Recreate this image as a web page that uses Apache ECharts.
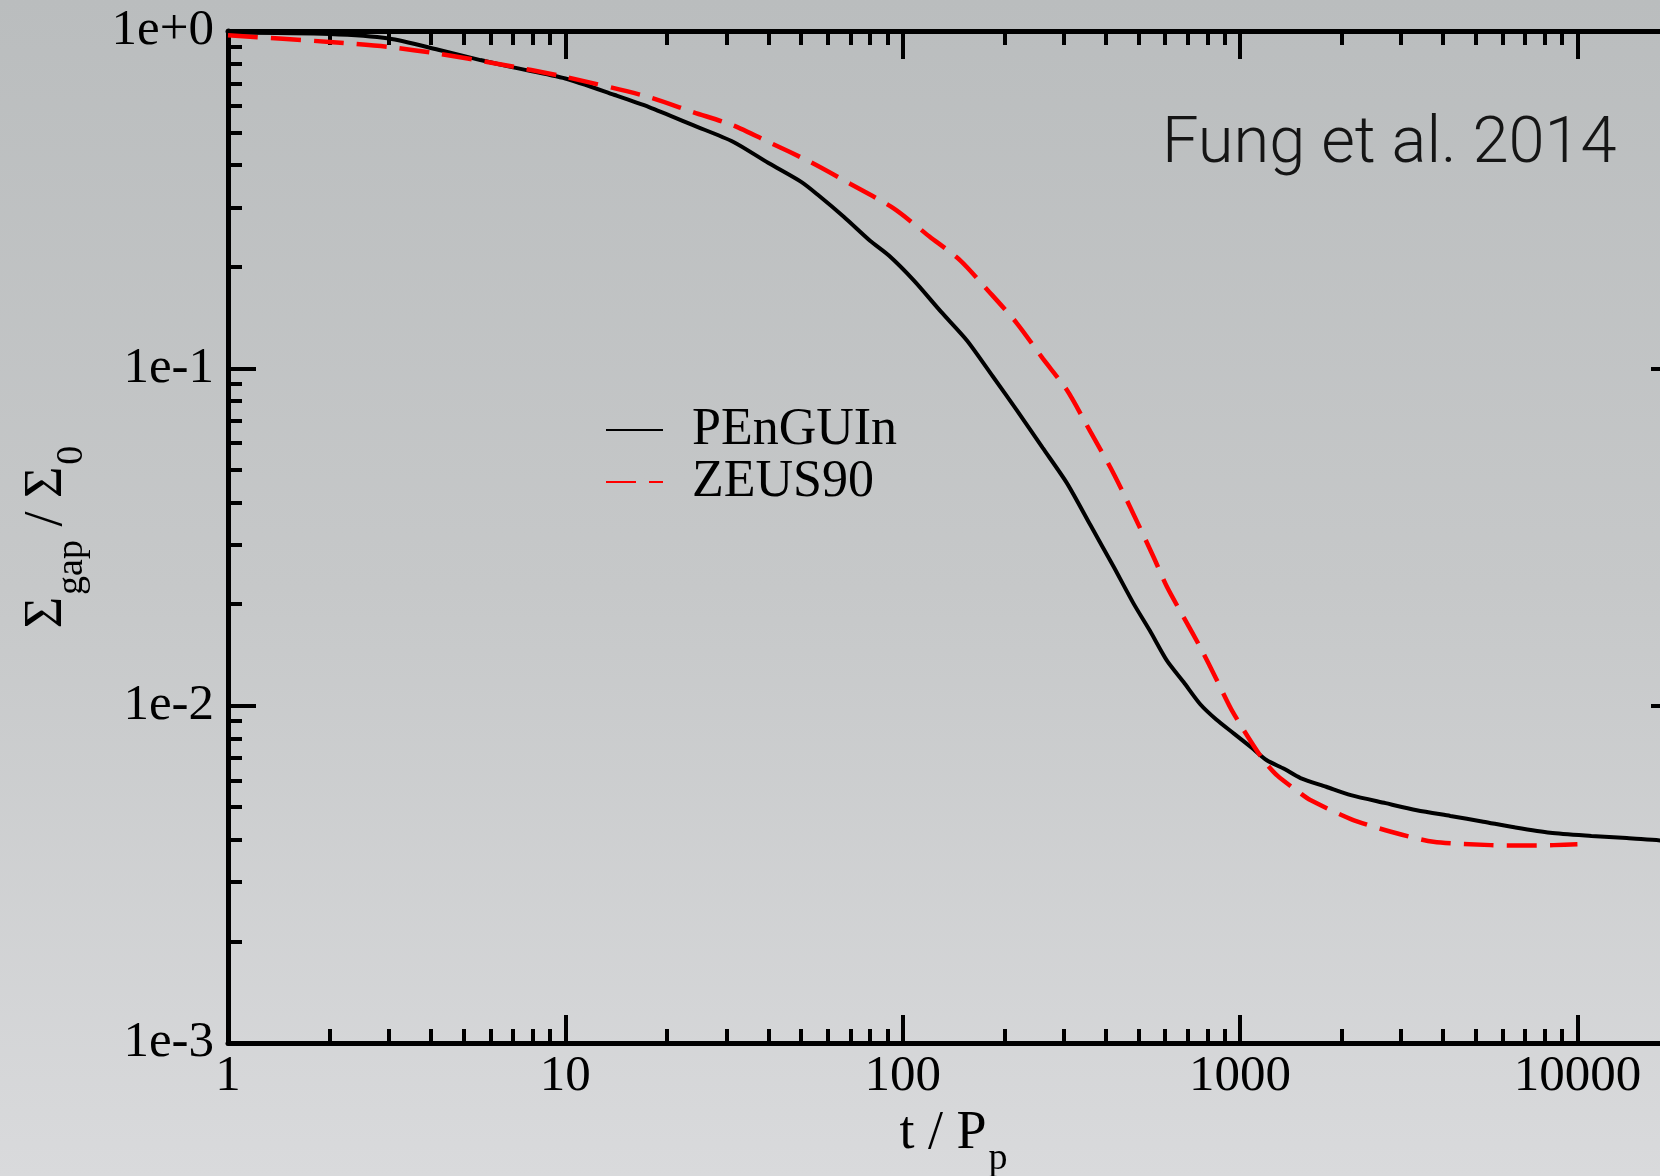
<!DOCTYPE html>
<html>
<head>
<meta charset="utf-8">
<script src="https://cdn.jsdelivr.net/npm/echarts@6/dist/echarts.min.js"></script>
<style>
html, body { margin: 0; padding: 0; }
body { background: linear-gradient(to bottom, #babdbe 0%, #c6c8c9 50%, #d9dadc 100%); }
#chart { width: 1660px; height: 1176px; }
</style>
</head>
<body>
<div id="chart"></div>
<script>
// PEnGUIn run (solid black)
const penguinT = [1, 2, 3, 4.2, 5.6, 7, 10, 14, 17.7, 24, 31.5, 40, 50, 56, 67, 80, 91, 108, 130, 155, 185, 218, 260, 307, 360, 422, 483, 540, 607, 680, 762, 850, 957, 1080, 1200, 1350, 1510, 1800, 2130, 2700, 3340, 4200, 5260, 6500, 8300, 11000, 14000, 18000, 20000];
const penguinS = [0.99, 0.98, 0.95, 0.88, 0.82, 0.78, 0.723, 0.646, 0.595, 0.525, 0.469, 0.406, 0.357, 0.327, 0.281, 0.239, 0.216, 0.182, 0.147, 0.121, 0.0946, 0.0751, 0.0581, 0.0456, 0.0343, 0.0258, 0.0201, 0.0167, 0.0136, 0.01175, 0.0101, 0.0091, 0.00828, 0.00752, 0.00689, 0.0065, 0.0061, 0.00575, 0.00543, 0.00514, 0.0049, 0.00471, 0.00453, 0.00436, 0.0042, 0.00411, 0.00405, 0.00398, 0.00397];

// ZEUS90 run (red dashed)
const zeusT = [1, 2, 3, 4.2, 6.27, 10, 17.7, 24, 31.5, 40, 53.2, 70, 94, 120, 148, 180, 218, 260, 307, 360, 412, 462, 554, 607, 680, 762, 850, 950, 1160, 1290, 1510, 1615, 2130, 2800, 3740, 5530, 7000, 8500, 10000];
const zeusS = [0.971, 0.928, 0.897, 0.857, 0.80, 0.731, 0.637, 0.574, 0.525, 0.469, 0.409, 0.352, 0.298, 0.246, 0.209, 0.169, 0.136, 0.107, 0.0861, 0.0649, 0.051, 0.0406, 0.0276, 0.0225, 0.0183, 0.0149, 0.012, 0.0096, 0.0070, 0.0062, 0.0055, 0.00525, 0.00461, 0.00423, 0.00395, 0.00386, 0.00385, 0.00386, 0.00388];

const xMajor = [1, 10, 100, 1000, 10000];
const yMajor = [0.001, 0.01, 0.1, 1];
const yLabels = ['1e-3', '1e-2', '1e-1', '1e+0'];

// minor ticks at 2..9 of every decade
const minorOf = (decades) => {
    const out = [];
    decades.forEach(d => {
        for (let m = 2; m <= 9; m++) out.push(Number((m * d).toPrecision(3)));
    });
    return out;
};
const xMinor = minorOf([1, 10, 100, 1000, 10000]);
const yMinor = minorOf([0.001, 0.01, 0.1]);

const serif = '"Liberation Serif", "DejaVu Serif", serif';
const black = '#000';

const nameRich = {
    m: { fontSize: 54, fontFamily: serif, color: black, lineHeight: 54, verticalAlign: 'top' },
    s: { fontSize: 38, fontFamily: serif, color: black, lineHeight: 38, verticalAlign: 'top', padding: [33, 0, 0, 2] }
};

const makeX = (pos, ticks, len, withLabel) => ({
    type: 'log', logBase: 10, min: 1, max: 20000, position: pos,
    axisLine: { show: withLabel !== null, onZero: false, lineStyle: { color: black, width: 5 } },
    axisTick: { inside: true, length: len, customValues: ticks, lineStyle: { color: black, width: 4 } },
    axisLabel: withLabel ? {
        show: true, customValues: xMajor, margin: 8,
        fontFamily: serif, fontSize: 51, color: black,
        formatter: v => String(Math.round(v))
    } : { show: false },
    splitLine: { show: false },
    minorTick: { show: false }
});

const makeY = (pos, ticks, len, withLabel) => ({
    type: 'log', logBase: 10, min: 0.001, max: 1, position: pos,
    axisLine: { show: withLabel !== null, onZero: false, lineStyle: { color: black, width: 5 } },
    axisTick: { inside: true, length: len, customValues: ticks, lineStyle: { color: black, width: 4 } },
    axisLabel: withLabel ? {
        show: true, customValues: yMajor, margin: 14,
        fontFamily: serif, fontSize: 51, color: black,
        formatter: v => {
            let best = 0;
            yMajor.forEach((t, i) => { if (Math.abs(Math.log10(t) - Math.log10(v)) < Math.abs(Math.log10(yMajor[best]) - Math.log10(v))) best = i; });
            return yLabels[best];
        }
    } : { show: false },
    splitLine: { show: false },
    minorTick: { show: false }
});

const xAxes = [
    makeX('bottom', xMajor, 28, true),
    makeX('bottom', xMinor, 14, null),
    makeX('top', xMajor, 28, false),
    makeX('top', xMinor, 14, null)
];
xAxes[0].name = '{m|t / P}{s|p}';
xAxes[0].nameLocation = 'middle';
xAxes[0].nameGap = 48;
xAxes[0].nameTextStyle = { rich: nameRich };

const yAxes = [
    makeY('left', yMajor, 28, true),
    makeY('left', yMinor, 14, null),
    makeY('right', yMajor, 28, false),
    makeY('right', yMinor, 14, null)
];
yAxes[0].name = '{m|Σ}{s|gap}{m| / Σ}{s|0}';
yAxes[0].nameLocation = 'middle';
yAxes[0].nameGap = 154;
yAxes[0].nameTextStyle = { rich: nameRich };

const chart = echarts.init(document.getElementById('chart'), null, { renderer: 'canvas' });
chart.setOption({
    animation: false,
    backgroundColor: 'transparent',
    // right axis sits just past the picture edge
    grid: { left: 228, width: 1451, top: 31, height: 1012, containLabel: false, outerBoundsMode: 'none' },
    xAxis: xAxes,
    yAxis: yAxes,
    legend: {
        orient: 'vertical', left: 600, top: 399,
        itemWidth: 57, itemHeight: 14, itemGap: 0,
        itemStyle: { opacity: 0 },
        textStyle: { fontFamily: serif, fontSize: 52, color: black, lineHeight: 46, padding: [0, 0, 0, 24] },
        data: ['PEnGUIn', 'ZEUS90']
    },
    graphic: [{
        type: 'text', left: 1162, top: 113, silent: true,
        style: { text: 'Fung et al. 2014', font: '300 65px Roboto', fill: '#151515' }
    }],
    series: [
        {
            name: 'PEnGUIn', type: 'line', xAxisIndex: 0, yAxisIndex: 0,
            symbol: 'none', smooth: 0.25,
            lineStyle: { color: black, width: 4 },
            itemStyle: { color: black },
            data: penguinT.map((t, i) => [t, penguinS[i]])
        },
        {
            name: 'ZEUS90', type: 'line', xAxisIndex: 0, yAxisIndex: 0,
            symbol: 'none', smooth: 0.25,
            lineStyle: { color: '#ff0000', width: 4.5, type: [30, 13] },
            itemStyle: { color: '#ff0000' },
            data: zeusT.map((t, i) => [t, zeusS[i]])
        }
    ]
});
</script>
</body>
</html>
